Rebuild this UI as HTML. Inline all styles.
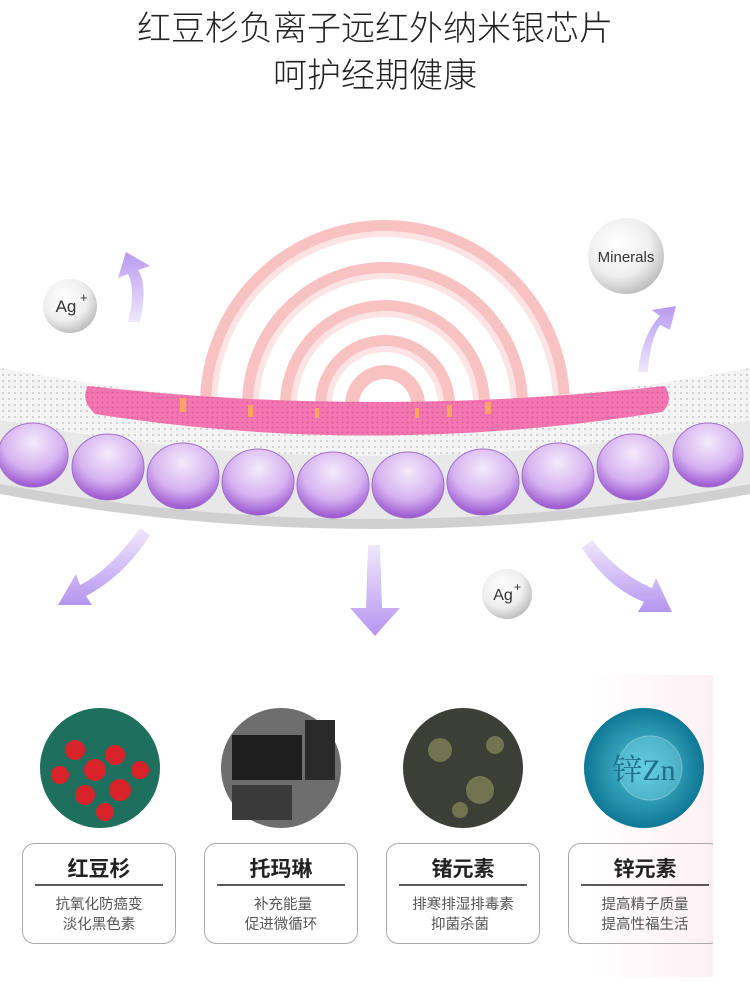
<!DOCTYPE html>
<html><head><meta charset="utf-8"><style>
body{margin:0;width:750px;height:977px;background:#fff;overflow:hidden;font-family:"Liberation Sans","Noto Sans CJK SC",sans-serif;}
</style></head><body>
<svg width="750" height="977" viewBox="0 0 750 977" xmlns="http://www.w3.org/2000/svg">
<defs>
<linearGradient id="pk" x1="0" x2="1" y1="0" y2="0"><stop offset="0" stop-color="#fff"/><stop offset="0.5" stop-color="#fff"/><stop offset="1" stop-color="#fdf0f4"/></linearGradient>
<radialGradient id="ball" cx="0.4" cy="0.35" r="0.7"><stop offset="0" stop-color="#fff"/><stop offset="0.6" stop-color="#eee"/><stop offset="1" stop-color="#b8b8b8"/></radialGradient>
<radialGradient id="bead" cx="0.5" cy="0.3" r="0.7"><stop offset="0" stop-color="#f4eafb"/><stop offset="0.6" stop-color="#d6b2f0"/><stop offset="1" stop-color="#9a55d0"/></radialGradient>
<pattern id="dots" width="6" height="6" patternUnits="userSpaceOnUse"><rect width="6" height="6" fill="#f4f4f4"/><circle cx="3" cy="3" r="1" fill="#c8c8c8"/></pattern>
<pattern id="pdots" width="5" height="5" patternUnits="userSpaceOnUse"><rect width="5" height="5" fill="#f277b0"/><circle cx="2.5" cy="2.5" r="0.9" fill="#e0559a"/></pattern>
<linearGradient id="arr" x1="0" y1="0" x2="0" y2="1"><stop offset="0" stop-color="#b89af0"/><stop offset="1" stop-color="#efe8fb"/></linearGradient>
<linearGradient id="arrd" x1="0" y1="0" x2="0" y2="1"><stop offset="0" stop-color="#f0e8fb"/><stop offset="1" stop-color="#b595f0"/></linearGradient>
<radialGradient id="zn" cx="0.5" cy="0.5" r="0.5"><stop offset="0" stop-color="#56c8dc"/><stop offset="1" stop-color="#0f7895"/></radialGradient>
</defs>
<rect x="465" y="675" width="248" height="302" fill="url(#pk)"/>
<text x="375" y="40" font-size="34" text-anchor="middle" fill="#222" font-weight="300">红豆杉负离子远红外纳米银芯片</text>
<text x="375" y="87" font-size="34" text-anchor="middle" fill="#222" font-weight="300">呵护经期健康</text>
<g fill="none" stroke="#f8b8b8" stroke-width="14" opacity="0.85">
<path d="M207 405 A178 178 0 0 1 563 405"/>
<path d="M249 405 A136 136 0 0 1 521 405"/>
<path d="M287 405 A98 98 0 0 1 483 405"/>
<path d="M322 405 A63 63 0 0 1 448 405"/>
<path d="M352 405 A33 33 0 0 1 418 405"/>
</g>
<g fill="none" stroke="#fde4e4" stroke-width="6">
<path d="M214 405 A171 171 0 0 1 556 405"/>
<path d="M256 405 A129 129 0 0 1 514 405"/>
<path d="M294 405 A91 91 0 0 1 476 405"/>
<path d="M329 405 A56 56 0 0 1 441 405"/>
</g>
<path d="M0 368 Q375 440 750 368 L750 492 Q375 562 0 492 Z" fill="#e8e8e8"/>
<path d="M0 368 Q375 440 750 368 L750 420 Q375 492 0 420 Z" fill="url(#dots)"/>
<path d="M88 386 Q375 418 665 386 Q674 402 662 412 Q375 458 95 414 Q80 400 88 386 Z" fill="url(#pdots)"/>
<g fill="#ffb050" opacity="0.8"><rect x="180" y="398" width="6" height="14"/><rect x="248" y="405" width="5" height="12"/><rect x="315" y="408" width="4" height="10"/><rect x="415" y="408" width="4" height="10"/><rect x="447" y="405" width="5" height="12"/><rect x="485" y="402" width="6" height="12"/></g>
<g stroke="#a070c8" stroke-width="1">
<ellipse cx="33" cy="455" rx="35" ry="32" fill="url(#bead)"/>
<ellipse cx="108" cy="467" rx="36" ry="33" fill="url(#bead)"/>
<ellipse cx="183" cy="476" rx="36" ry="33" fill="url(#bead)"/>
<ellipse cx="258" cy="482" rx="36" ry="33" fill="url(#bead)"/>
<ellipse cx="333" cy="485" rx="36" ry="33" fill="url(#bead)"/>
<ellipse cx="408" cy="485" rx="36" ry="33" fill="url(#bead)"/>
<ellipse cx="483" cy="482" rx="36" ry="33" fill="url(#bead)"/>
<ellipse cx="558" cy="476" rx="36" ry="33" fill="url(#bead)"/>
<ellipse cx="633" cy="467" rx="36" ry="33" fill="url(#bead)"/>
<ellipse cx="708" cy="455" rx="35" ry="32" fill="url(#bead)"/>
</g>
<path d="M0 484 Q375 554 750 484 L750 494 Q375 564 0 494 Z" fill="#d0d0d0"/>
<path d="M140 322 Q148 285 138 270 L150 266 L126 252 L118 278 L128 274 Q136 290 128 322 Z" fill="url(#arr)"/>
<path d="M648 372 Q650 340 660 325 L670 330 L676 306 L652 310 L660 316 Q642 335 638 372 Z" fill="url(#arr)"/>
<path d="M140 528 Q110 570 80 585 L76 574 L58 605 L92 605 L86 596 Q125 575 150 535 Z" fill="url(#arrd)"/>
<path d="M368 545 L380 545 L382 608 L400 608 L375 636 L350 608 L366 608 Z" fill="url(#arrd)"/>
<path d="M592 540 Q620 575 652 588 L656 578 L672 612 L638 612 L644 602 Q608 588 582 548 Z" fill="url(#arrd)"/>
<circle cx="70" cy="306" r="27" fill="url(#ball)"/>
<text x="66" y="312" font-size="17" text-anchor="middle" fill="#333">Ag</text><text x="80" y="302" font-size="13" fill="#333">+</text>
<circle cx="626" cy="256" r="38" fill="url(#ball)"/>
<text x="626" y="262" font-size="15" text-anchor="middle" fill="#333">Minerals</text>
<circle cx="507" cy="594" r="25" fill="url(#ball)"/>
<text x="503" y="600" font-size="16" text-anchor="middle" fill="#333">Ag</text><text x="514" y="591" font-size="12" fill="#333">+</text>
<circle cx="100" cy="768" r="60" fill="#1f6f5f"/>
<g fill="#d8232a"><circle cx="75" cy="750" r="10"/><circle cx="95" cy="770" r="11"/><circle cx="115" cy="755" r="10"/><circle cx="85" cy="795" r="10"/><circle cx="120" cy="790" r="11"/><circle cx="140" cy="770" r="9"/><circle cx="60" cy="775" r="9"/><circle cx="105" cy="812" r="9"/></g>
<circle cx="281" cy="768" r="60" fill="#6e6e6e"/>
<rect x="232" y="735" width="70" height="45" fill="#1e1e1e"/><rect x="232" y="785" width="60" height="35" fill="#3a3a3a"/><rect x="305" y="720" width="30" height="60" fill="#2a2a2a"/>
<circle cx="463" cy="768" r="60" fill="#3b3f36"/>
<g fill="#8a8a5a" opacity="0.7"><circle cx="440" cy="750" r="12"/><circle cx="480" cy="790" r="14"/><circle cx="460" cy="810" r="8"/><circle cx="495" cy="745" r="9"/></g>
<circle cx="644" cy="768" r="60" fill="url(#zn)"/>
<circle cx="650" cy="768" r="32" fill="#7fd6e6" opacity="0.4" stroke="#dff" stroke-width="1"/>
<text x="644" y="780" font-size="30" text-anchor="middle" fill="#1d6f8c" font-family="Liberation Serif,Noto Serif CJK SC,serif">锌Zn</text>
<g fill="none" stroke="#aaa" stroke-width="1">
<rect x="22.5" y="843.5" width="153" height="100" rx="12"/>
<rect x="204.5" y="843.5" width="153" height="100" rx="12"/>
<rect x="386.5" y="843.5" width="153" height="100" rx="12"/>
<rect x="568.5" y="843.5" width="153" height="100" rx="12"/>
</g>
<g stroke="#222" stroke-width="1.5">
<line x1="35" y1="885" x2="163" y2="885"/><line x1="217" y1="885" x2="345" y2="885"/><line x1="399" y1="885" x2="527" y2="885"/><line x1="581" y1="885" x2="709" y2="885"/>
</g>
<g font-size="21" text-anchor="middle" fill="#222" font-weight="bold">
<text x="99" y="876">红豆杉</text><text x="281" y="876">托玛琳</text><text x="463" y="876">锗元素</text><text x="645" y="876">锌元素</text>
</g>
<g font-size="14.5" text-anchor="middle" fill="#555">
<text x="99" y="909">抗氧化防癌变</text><text x="99" y="929">淡化黑色素</text>
<text x="283" y="909">补充能量</text><text x="281" y="929">促进微循环</text>
<text x="463" y="909">排寒排湿排毒素</text><text x="460" y="929">抑菌杀菌</text>
<text x="645" y="909">提高精子质量</text><text x="645" y="929">提高性福生活</text>
</g>
<rect x="713" y="675" width="37" height="302" fill="#fff"/>
</svg>
</body></html>
